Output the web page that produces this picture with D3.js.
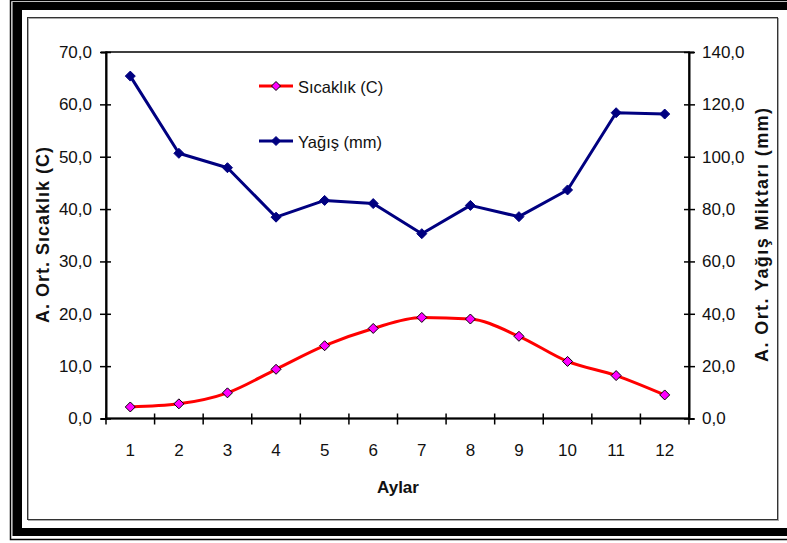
<!DOCTYPE html>
<html>
<head>
<meta charset="utf-8">
<script src="https://cdn.jsdelivr.net/npm/d3@7"></script>
<style>
  html, body { margin: 0; padding: 0; background: #fff; }
  svg { display: block; font-family: "Liberation Sans", Arial, sans-serif; }
</style>
</head>
<body>
<svg id="chart" width="787" height="543"></svg>
<script>
const months = [1, 2, 3, 4, 5, 6, 7, 8, 9, 10, 11, 12];
const temperature = [2.2, 2.8, 4.9, 9.4, 13.9, 17.2, 19.3, 19.0, 15.7, 10.9, 8.2, 4.5];
const precipitation = [130.8, 101.3, 95.8, 76.9, 83.3, 82.1, 70.6, 81.4, 77.1, 87.3, 116.8, 116.3];
const leftTicks = [0, 10, 20, 30, 40, 50, 60, 70];
const rightTicks = [0, 20, 40, 60, 80, 100, 120, 140];
const seriesNames = ["Sıcaklık (C)", "Yağış (mm)"];
const xTitle = "Aylar";
const leftTitle = "A. Ort. Sıcaklık (C)";
const rightTitle = "A. Ort. Yağış Miktarı (mm)";

const svg = d3.select("#chart");
const W = 787, H = 543;

// Outer decorative frame
svg.append("rect").attr("x", 10.5).attr("y", 0.5).attr("width", W + 20).attr("height", 539)
  .attr("fill", "none").attr("stroke", "#000").attr("stroke-width", 1.5);
svg.append("rect").attr("x", 12.5).attr("y", 2).attr("width", W + 20).attr("height", 534)
  .attr("fill", "#000");
svg.append("rect").attr("x", 22).attr("y", 10).attr("width", W + 20).attr("height", 518)
  .attr("fill", "#fff");
// Inner chart-area border (dark + light grey)
svg.append("rect").attr("x", 28.5).attr("y", 18.5).attr("width", 750).attr("height", 502)
  .attr("fill", "none").attr("stroke", "#aaa").attr("stroke-width", 1);
svg.append("rect").attr("x", 27.5).attr("y", 17.5).attr("width", 750).attr("height", 502)
  .attr("fill", "none").attr("stroke", "#333").attr("stroke-width", 1);

const plot = { left: 106, right: 689, top: 52, bottom: 418.5 };

const x = d3.scaleBand().domain(months).range([plot.left, plot.right]).padding(0);
const yL = d3.scaleLinear().domain([0, 70]).range([plot.bottom, plot.top]);
const yR = d3.scaleLinear().domain([0, 140]).range([plot.bottom, plot.top]);
const cx = d => x(d) + x.bandwidth() / 2;

// plot area border
svg.append("rect").attr("x", plot.left).attr("y", plot.top)
  .attr("width", plot.right - plot.left).attr("height", plot.bottom - plot.top)
  .attr("fill", "none").attr("stroke", "#000").attr("stroke-width", 1.5);

const tickFont = 17;

// Left axis
const gL = svg.append("g").attr("transform", `translate(${plot.left},0)`)
  .call(d3.axisLeft(yL).tickValues(leftTicks).tickSize(5)
    .tickFormat(d => d3.format(".1f")(d).replace(".", ",")));
gL.select(".domain").attr("stroke-width", 2);
gL.selectAll(".tick line").attr("x1", 5).attr("x2", -6).attr("stroke-width", 1.5);
gL.selectAll(".tick text").attr("x", -14).attr("font-size", tickFont)
  .attr("font-family", "Liberation Sans, Arial, sans-serif").attr("fill", "#111");

// Right axis
const gR = svg.append("g").attr("transform", `translate(${plot.right},0)`)
  .call(d3.axisRight(yR).tickValues(rightTicks).tickSize(5)
    .tickFormat(d => d3.format(".1f")(d).replace(".", ",")));
gR.select(".domain").attr("stroke-width", 2);
gR.selectAll(".tick line").attr("x1", -5).attr("x2", 6).attr("stroke-width", 1.5);
gR.selectAll(".tick text").attr("x", 13).attr("font-size", tickFont)
  .attr("font-family", "Liberation Sans, Arial, sans-serif").attr("fill", "#111");

// Bottom axis: ticks at category boundaries
const gB = svg.append("g").attr("transform", `translate(0,${plot.bottom})`);
gB.append("line").attr("x1", plot.left).attr("x2", plot.right).attr("stroke", "#000").attr("stroke-width", 2);
const boundaries = months.map(m => x(m)).concat([x(months[months.length - 1]) + x.bandwidth()]);
gB.selectAll("line.tk").data(boundaries).enter().append("line").attr("class", "tk")
  .attr("x1", d => d).attr("x2", d => d).attr("y1", -5).attr("y2", 6)
  .attr("stroke", "#000").attr("stroke-width", 1.5);
gB.selectAll("text.lbl").data(months).enter().append("text").attr("class", "lbl")
  .attr("x", d => cx(d)).attr("y", 37.5).attr("text-anchor", "middle")
  .attr("font-size", tickFont).attr("fill", "#111").text(d => d);

// Titles
svg.append("text").attr("x", 398).attr("y", 493).attr("text-anchor", "middle")
  .attr("font-size", 17).attr("font-weight", "bold").attr("fill", "#111").text(xTitle);
svg.append("text").attr("transform", `translate(49,235) rotate(-90)`)
  .attr("text-anchor", "middle").attr("font-size", 18).attr("font-weight", "bold")
  .attr("textLength", 176).attr("lengthAdjust", "spacing").attr("fill", "#111").text(leftTitle);
svg.append("text").attr("transform", `translate(768,235) rotate(-90)`)
  .attr("text-anchor", "middle").attr("font-size", 18).attr("font-weight", "bold")
  .attr("textLength", 254).attr("lengthAdjust", "spacing").attr("fill", "#111").text(rightTitle);

// Lines
const lineT = d3.line().x((d, i) => cx(months[i])).y(d => yL(d)).curve(d3.curveMonotoneX);
const lineP = d3.line().x((d, i) => cx(months[i])).y(d => yR(d));

svg.append("path").datum(precipitation).attr("d", lineP)
  .attr("fill", "none").attr("stroke", "#000080").attr("stroke-width", 3).attr("stroke-linejoin", "round");
svg.append("path").datum(temperature).attr("d", lineT)
  .attr("fill", "none").attr("stroke", "#ff0000").attr("stroke-width", 3);

const diamondSq = s => `M0,${-s}L${s},0L0,${s}L${-s},0Z`;

svg.selectAll("path.mp").data(precipitation).enter().append("path").attr("class", "mp")
  .attr("transform", (d, i) => `translate(${cx(months[i])},${yR(d)})`)
  .attr("d", diamondSq(5)).attr("fill", "#000080").attr("stroke", "#000080").attr("stroke-width", 1);
svg.selectAll("path.mt").data(temperature).enter().append("path").attr("class", "mt")
  .attr("transform", (d, i) => `translate(${cx(months[i])},${yL(d)})`)
  .attr("d", diamondSq(5)).attr("fill", "#ff00ff").attr("stroke", "#000").attr("stroke-width", 1);

// Legend
const legend = [
  { name: seriesNames[0], y: 86, line: "#ff0000", fill: "#ff00ff", stroke: "#000" },
  { name: seriesNames[1], y: 141, line: "#000080", fill: "#000080", stroke: "#000080" }
];
const lg = svg.selectAll("g.lg").data(legend).enter().append("g").attr("class", "lg")
  .attr("transform", d => `translate(0,${d.y})`);
lg.append("line").attr("x1", 259).attr("x2", 293).attr("stroke", d => d.line).attr("stroke-width", 3);
lg.append("path").attr("transform", "translate(276,0)").attr("d", diamondSq(4.5))
  .attr("fill", d => d.fill).attr("stroke", d => d.stroke).attr("stroke-width", 1);
lg.append("text").attr("x", 298).attr("y", 6.5).attr("font-size", 16.5).attr("fill", "#111").text(d => d.name);
</script>
</body>
</html>
